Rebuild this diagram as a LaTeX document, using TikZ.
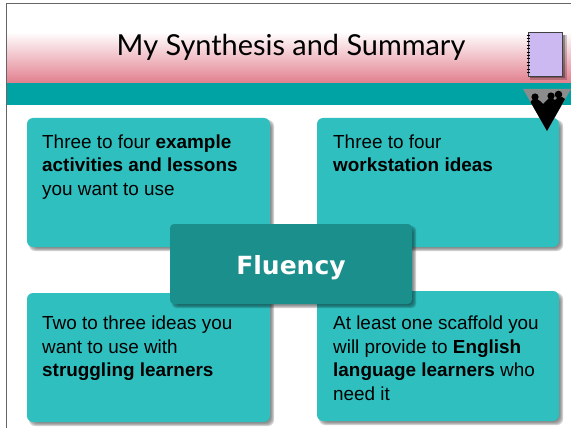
\documentclass[tikz,border=0pt]{standalone}
\usepackage{fontspec}
\setmainfont{Liberation Sans}
\newfontfamily\titlefont{Lato}
\newfontfamily\fluencyfont{DejaVu Sans}
\usetikzlibrary{calc}
\definecolor{boxteal}{HTML}{30BFBF}
\definecolor{barteal}{HTML}{00A3A3}
\definecolor{midteal}{HTML}{1A8F8C}
\definecolor{pinkband}{HTML}{E27F8E}
\definecolor{lilac}{HTML}{CDB9F2}
\definecolor{framegray}{HTML}{666666}
\newcommand{\softshadow}[5]{% x1 y1 x2 y2 corner
  \foreach \s/\o in {0/0.10,1/0.10,2/0.12,3/0.14,4/0.18}{
    \fill[black,opacity=\o,rounded corners=#5pt]
      ({#1+4-\s+2},{#2+4-\s+2}) rectangle ({#3+\s},{#4+\s});
  }}
\tikzset{
  infobox/.style={fill=boxteal,rounded corners=6pt},
  infotext/.style={anchor=north west,align=left,font=\fontsize{18.9}{23.5}\selectfont,text=black,inner sep=0pt},
  sheet/.style={fill=lilac,draw=black!75,line width=0.8pt}
}
\begin{document}
\begin{tikzpicture}[x=1pt,y=-1pt]
\useasboundingbox (0,0) rectangle (571,428);
\fill[white] (0,0) rectangle (571,428);
% header
\shade[top color=white,bottom color=pinkband] (6,32) rectangle (571,83);
\fill[barteal] (6,83) rectangle (571,105.5);
\draw[framegray,line width=0.9pt] (6.5,428) -- (6.5,3.5) -- (571,3.5);
\node[font=\titlefont\fontsize{28.9}{34}\selectfont,text=black,inner sep=0pt] (title) at (291,47) {My Synthesis and Summary};
% boxes
\softshadow{27}{118}{270}{247}{6}
\softshadow{317}{118}{559}{247}{6}
\softshadow{27}{293}{270}{422}{6}
\softshadow{317}{291}{559}{421}{6}
\fill[infobox] (27,118) rectangle (270,247);
\fill[infobox] (317,118) rectangle (559,247);
\fill[infobox] (27,293) rectangle (270,422);
\fill[infobox] (317,291) rectangle (559,421);
\node[infotext] (tl) at (42,134.5) {Three to four \textbf{example}\\\textbf{activities and lessons}\\you want to use};
\node[infotext] (tr) at (333,134.5) {Three to four\\\textbf{workstation ideas}};
\node[infotext] (bl) at (42,316) {Two to three ideas you\\want to use with\\\textbf{struggling learners}};
\node[infotext] (br) at (333,316) {At least one scaffold you\\will provide to \textbf{English}\\\textbf{language learners} who\\need it};
% centre
\softshadow{170}{224}{412}{304}{4}
\fill[midteal,rounded corners=4pt] (170,224) rectangle (412,304);
\node[font=\fluencyfont\bfseries\fontsize{25}{30}\selectfont,text=white,inner sep=0pt] (fluency) at (291,268) {Fluency};
% notebook
\fill[black,opacity=0.2] (530,35) rectangle (567,80);
\fill[black,opacity=0.3] (530,35) rectangle (565,78.5);
\draw[sheet] (528,32.5) rectangle (562.5,76.5);
\foreach \yy in {35,38.4,...,75}{
  \draw[black,line width=0.9pt] (526.5,\yy) -- (529.5,\yy);
}
% funnel
\fill[black!45] (523,89) -- (571,89) -- (547,131) -- cycle;
\fill[black] (530.5,102) -- (532,100) -- (537,99) -- (540,101) -- (543,104) -- (546,101) -- (548,99) -- (553,99) -- (555,100) -- (557,98) -- (562,97) -- (565,99) -- (547,131) -- cycle;
\fill[black] (535,97) circle (3.6);
\fill[black] (551,96) circle (3.6);
\fill[black] (558.5,94.5) circle (3.8);
\end{tikzpicture}
\end{document}
